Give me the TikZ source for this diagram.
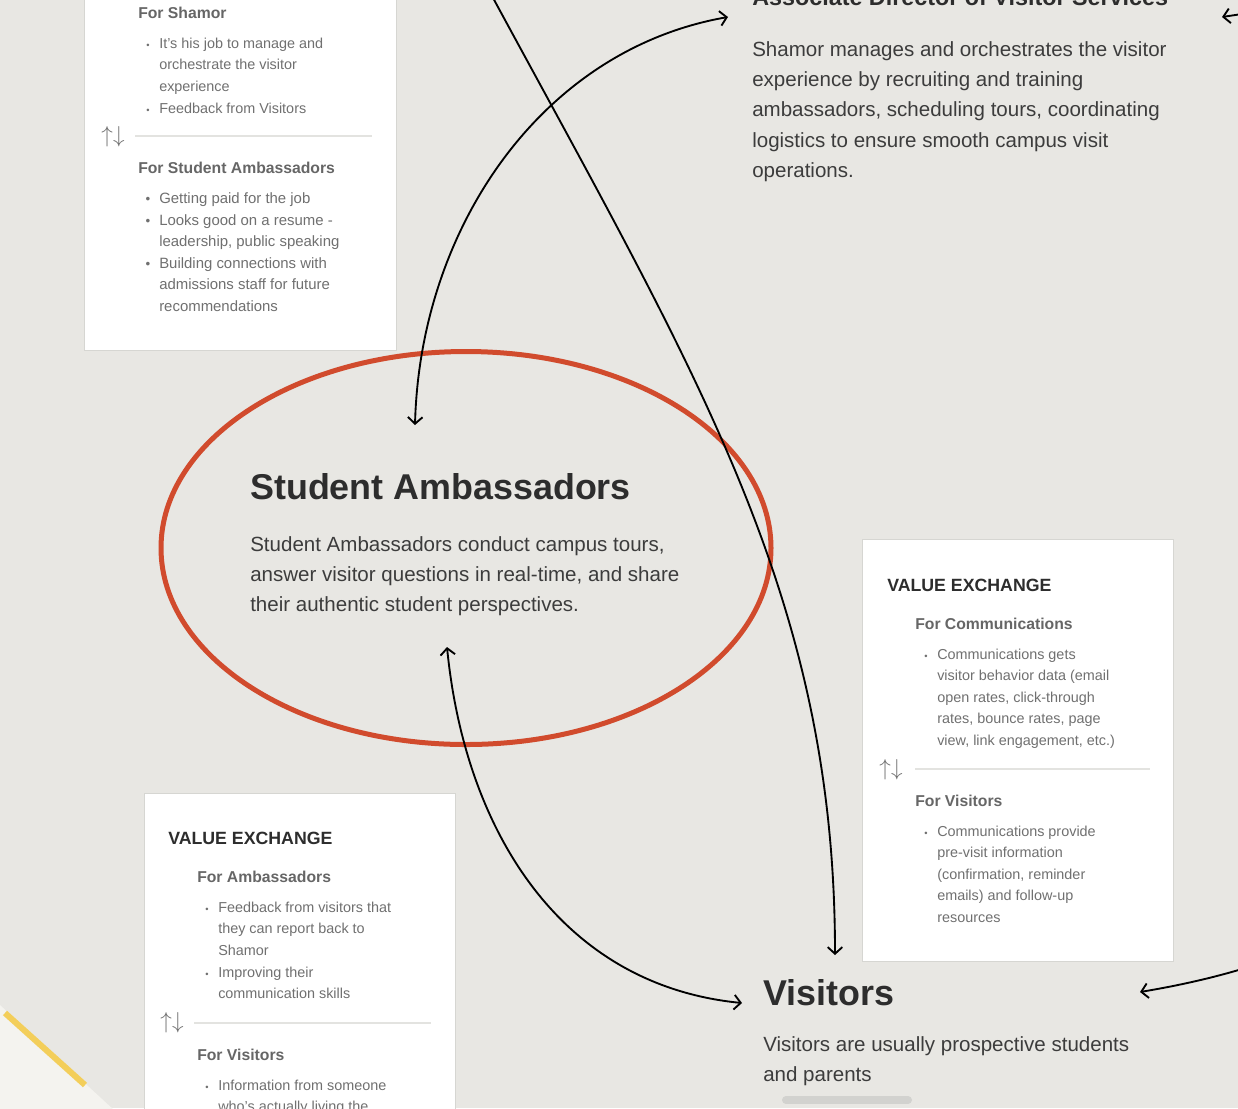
\documentclass[tikz,border=0pt]{standalone}
\usepackage{fontspec}
\setmainfont{Liberation Sans}
\usetikzlibrary{arrows.meta,shapes.geometric}
\definecolor{bg}{HTML}{E8E7E3}
\definecolor{bglight}{HTML}{F4F3EF}
\definecolor{cardline}{HTML}{D6D6D2}
\definecolor{divider}{HTML}{E3E3E0}
\definecolor{ink}{HTML}{2D2D2D}
\definecolor{body}{HTML}{3C3C3C}
\definecolor{subhead}{HTML}{666666}
\definecolor{itemgray}{HTML}{707070}
\definecolor{ellred}{HTML}{D14B2D}
\definecolor{yell}{HTML}{F3CE5A}
\definecolor{barg}{HTML}{D2D2CF}
\tikzset{
  card/.style={draw=cardline, line width=0.75pt, fill=white, inner sep=0pt, outer sep=0pt},
  vx/.style={anchor=base west, inner sep=0pt, text=ink, font=\bfseries\fontsize{13.3}{16}\selectfont},
  sub/.style={anchor=base west, inner sep=0pt, text=subhead, font=\bfseries\fontsize{11.8}{14}\selectfont},
  item/.style={anchor=base west, inner sep=0pt, text=itemgray, align=left, font=\fontsize{10.8}{16.2}\selectfont},
  itembig/.style={item, font=\fontsize{11.2}{16.2}\selectfont},
  bul/.style={anchor=base, inner sep=0pt, text=itemgray, font=\fontsize{7}{8}\selectfont},
  bulbig/.style={anchor=base, inner sep=0pt, text=itemgray, font=\fontsize{10}{12}\selectfont},
  swapsym/.style={inner sep=0pt, text=itemgray, font=\fontsize{18}{22}\selectfont},
  divline/.style={draw=divider, line width=1.1pt},
  bigtitle/.style={anchor=base west, inner sep=0pt, text=ink, font=\bfseries\fontsize{26.9}{32}\selectfont},
  midtitle/.style={anchor=base west, inner sep=0pt, text=ink, font=\bfseries\fontsize{17.5}{21}\selectfont},
  bodytext/.style={anchor=base west, inner sep=0pt, text=body, align=left, font=\fontsize{15.4}{22.8}\selectfont},
  conn/.style={draw=black, line width=1.4pt},
  tip/.tip={Straight Barb[length=5pt,width=11pt]}
}
\begin{document}
\begin{tikzpicture}[x=0.75pt,y=-0.75pt]
\useasboundingbox (0,0) rectangle (1238,1108);
\clip (0,0) rectangle (1238,1108);
\fill[bg] (0,0) rectangle (1238,1108);
% corner decoration
\fill[bglight] (0,1005) -- (114,1110) -- (0,1110) -- cycle;
\draw[yell, line width=4.5pt] (5,1013) -- (85,1085);

% ---------- top-left card ----------
% (multi-line nodes are placed by the baseline of their last line)
\node[card, minimum width=234pt, minimum height=266.25pt] (cardA) at (240,172.5) {};
\node[sub] (aS1) at (138,18) {For Shamor};
\node[bul] (aB1) at (148,48) {•};
\node[item] (aI1) at (159,91.2) {It’s his job to manage and\\orchestrate the visitor\\experience};
\node[bul] (aB2) at (148,113) {•};
\node[item] (aI2) at (159,113) {Feedback from Visitors};
\node[swapsym] (aSw) at (113,137) {$\uparrow\downarrow$};
\draw[divline] (135,136) -- (372,136);
\node[sub] (aS2) at (138,173) {For Student Ambassadors};
\node[bulbig] (aB3) at (148,203) {•};
\node[itembig] (aI3) at (159,203) {Getting paid for the job};
\node[bulbig] (aB4) at (148,225) {•};
\node[itembig] (aI4) at (159,246.6) {Looks good on a resume -\\leadership, public speaking};
\node[bulbig] (aB5) at (148,268) {•};
\node[itembig] (aI5) at (159,311.2) {Building connections with\\admissions staff for future\\recommendations};

% ---------- top-right text ----------
\node[midtitle] (adhead) at (752,5) {Associate Director of Visitor Services};
\node[bodytext] (adbody) at (752,177.6) {Shamor manages and orchestrates the visitor\\experience by recruiting and training\\ambassadors, scheduling tours, coordinating\\logistics to ensure smooth campus visit\\operations.};

% ---------- Student Ambassadors ----------
\node[ellipse, draw=ellred, line width=3.75pt, minimum width=457.5pt, minimum height=294.75pt, inner sep=0pt] (sa) at (466,548) {};
\node[bigtitle] (sahead) at (250,499) {Student Ambassadors};
\node[bodytext] (sabody) at (250,611.8) {Student Ambassadors conduct campus tours,\\answer visitor questions in real-time, and share\\their authentic student perspectives.};

% ---------- right card ----------
\node[card, minimum width=233.25pt, minimum height=316.5pt] (cardB) at (1017.5,750) {};
\node[vx] (bV) at (887,591) {VALUE EXCHANGE};
\node[sub] (bS1) at (915,629) {For Communications};
\node[bul] (bB1) at (926,659) {•};
\node[item] (bI1) at (937,745.4) {Communications gets\\visitor behavior data (email\\open rates, click-through\\rates, bounce rates, page\\view, link engagement, etc.)};
\node[swapsym] (bSw) at (891,770) {$\uparrow\downarrow$};
\draw[divline] (915,769) -- (1150,769);
\node[sub] (bS2) at (915,806) {For Visitors};
\node[bul] (bB2) at (926,836) {•};
\node[item] (bI2) at (937,922.4) {Communications provide\\pre-visit information\\(confirmation, reminder\\emails) and follow-up\\resources};

% ---------- bottom-left card ----------
\node[card, minimum width=233.25pt, minimum height=247.5pt] (cardC) at (299.5,958) {};
\node[vx] (cV) at (168,844) {VALUE EXCHANGE};
\node[sub] (cS1) at (197,882) {For Ambassadors};
\node[bul] (cB1) at (207,912) {•};
\node[item] (cI1) at (218,955.2) {Feedback from visitors that\\they can report back to\\Shamor};
\node[bul] (cB2) at (207,977) {•};
\node[item] (cI2) at (218,998.6) {Improving their\\communication skills};
\node[swapsym] (cSw) at (172,1023) {$\uparrow\downarrow$};
\draw[divline] (194,1023) -- (431,1023);
\node[sub] (cS2) at (197,1060) {For Visitors};
\node[bul] (cB3) at (207,1090) {•};
\node[item] (cI3) at (218,1111.6) {Information from someone\\who’s actually living the};

% ---------- Visitors ----------
\node[bigtitle] (vhead) at (763,1005) {Visitors};
\node[bodytext] (vbody) at (763,1081.4) {Visitors are usually prospective students\\and parents};
\draw[barg, line width=6pt, line cap=round] (786,1100) -- (908,1100);

% ---------- connectors ----------
\coordinate (a1) at (415,425);
\coordinate (a2) at (728,17);
\draw[conn, tip-tip] (a1) .. controls (420,230) and (540,50) .. (a2);
\coordinate (b0) at (492,-4);
\coordinate (b1) at (835,955);
\draw[conn, -tip] (b0) .. controls (700,380) and (835,600) .. (b1);
\coordinate (c0) at (447,647);
\coordinate (c1) at (742,1003);
\draw[conn, tip-tip] (c0) .. controls (465,830) and (560,985) .. (c1);
\coordinate (d0) at (1242,969);
\coordinate (d1) at (1140,992);
\draw[conn, -tip] (d0) .. controls (1205,980) and (1170,987) .. (d1);
\coordinate (e0) at (1242,14);
\coordinate (e1) at (1222,17);
\draw[conn, -tip] (e0) -- (e1);
\end{tikzpicture}
\end{document}
